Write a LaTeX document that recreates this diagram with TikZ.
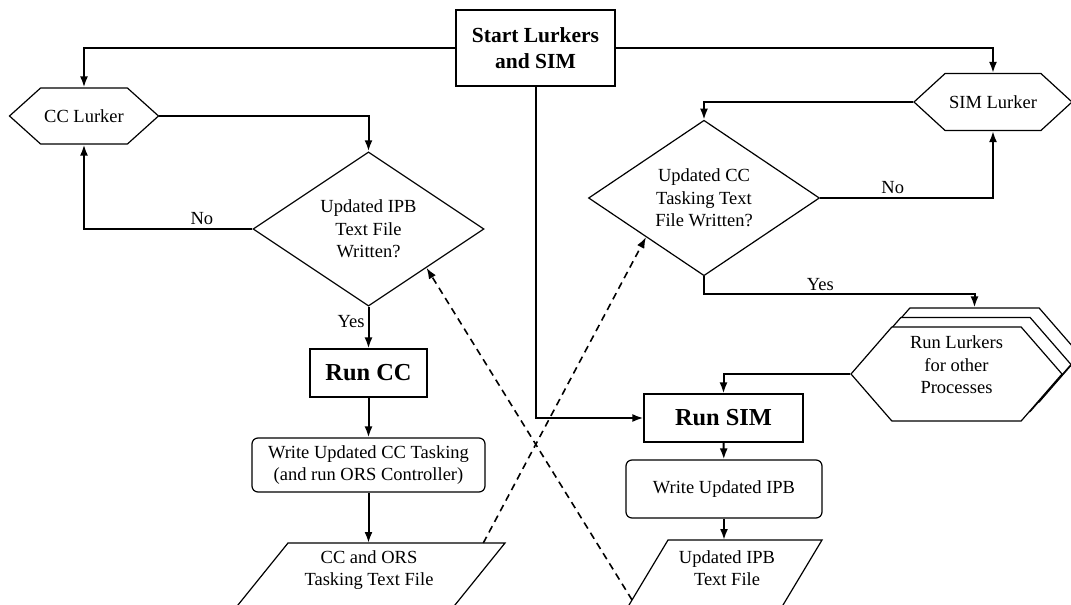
\documentclass[tikz,border=0pt]{standalone}
\usepackage{fontspec}
\setmainfont{Liberation Serif}
\usetikzlibrary{shapes.geometric,shapes.symbols,shadows,arrows.meta,calc}

\begin{document}
\begin{tikzpicture}[x=1pt,y=-1pt,
    every node/.style={font=\fontsize{18.5}{22.5}\selectfont, align=center, inner sep=0pt},
    shape line/.style={draw, line width=1.2pt},
    box/.style={shape line, minimum height=48pt, font=\fontsize{24.4}{29}\selectfont\bfseries},
    roundbox/.style={shape line, rounded corners=6pt},
    lurker/.style={shape line, fill=white, signal, signal to=west and east},
    decision/.style={shape line, diamond},
    flow/.style={line width=2pt, -{Latex[length=11pt,width=8pt]}},
    feed/.style={line width=1.6pt, dash pattern=on 7pt off 5pt, -{Latex[length=11pt,width=8pt]}},
    lab/.style={inner sep=3pt}
  ]
  \useasboundingbox (0,0) rectangle (1071,605);
  \clip (0,0) rectangle (1071,605);

  % start and the two lurkers
  \node[shape line, minimum width=159pt, minimum height=76pt,
        font=\fontsize{21.5}{26.7}\selectfont\bfseries] (start) at (535.5,48) {Start Lurkers\\and SIM};
  \node[lurker, minimum width=149pt, minimum height=56pt, signal pointer angle=84] (cclurk) at (84,116) {CC Lurker};
  \node[lurker, minimum width=158pt, minimum height=57pt, signal pointer angle=85] (simlurk) at (993,102) {SIM Lurker};

  % decisions
  \node[decision, minimum width=231pt, minimum height=129pt] (ipbcheck) at (368.5,229) {Updated IPB\\Text File\\Written?};
  \node[decision, minimum width=231pt, minimum height=147pt] (ccheck) at (704,198) {Updated CC\\Tasking Text\\File Written?};

  % CC branch
  \node[box, minimum width=117pt] (runcc) at (368.5,373) {Run CC};
  \node[roundbox, minimum width=233pt, minimum height=54pt] (writecc) at (368.5,465) {Write Updated CC Tasking\\(and run ORS Controller)};
  \coordinate (ccfile tl) at (288,543);
  \coordinate (ccfile tr) at (505,543);
  \coordinate (ccfile br) at (445.3,617);
  \coordinate (ccfile bl) at (228.3,617);
  \draw[shape line] (ccfile bl) -- (ccfile tl) -- (ccfile tr) -- (ccfile br) -- cycle;
  \node (ccfile) at (369,570) {CC and ORS\\Tasking Text File};

  % SIM branch
  \node[lurker, minimum width=211pt, minimum height=94pt, signal pointer angle=98, inner sep=2pt,
        double copy shadow={shadow xshift=9pt, shadow yshift=9.5pt, fill=white, draw=black, line width=1.2pt},
        label={[yshift=9pt]center:{Run Lurkers\\for other\\Processes}}] (others) at (956.5,374) {};
  \node[box, minimum width=159pt] (runsim) at (723.5,418) {Run SIM};
  \node[roundbox, minimum width=196pt, minimum height=58pt] (writeipb) at (724,489) {Write Updated IPB};
  \coordinate (ipbfile tl) at (668,540);
  \coordinate (ipbfile tr) at (822,540);
  \coordinate (ipbfile br) at (777.6,614);
  \coordinate (ipbfile bl) at (623.6,614);
  \draw[shape line] (ipbfile bl) -- (ipbfile tl) -- (ipbfile tr) -- (ipbfile br) -- cycle;
  \node (ipbfile) at (727,568) {Updated IPB\\Text File};

  \draw[flow] (start.west) -| (cclurk.north);
  \draw[flow] (start.east) -| (simlurk.north);
  \draw[flow] (start.south) |- (runsim.west);

  \draw[flow] (cclurk.east) -| (ipbcheck.north);
  \draw[flow] (ipbcheck.west) -| node[lab, above, pos=0.15] {No} (cclurk.south);
  \draw[flow] (ipbcheck.south) -- node[lab, left, pos=0.35] {Yes} (runcc.north);
  \draw[flow] (runcc) -- (writecc);
  \draw[flow] (writecc.south) -- (writecc.south |- ccfile tl);

  \draw[flow] (simlurk.west) -| (ccheck.north);
  \draw[flow] (ccheck.east) -| node[lab, above, pos=0.21] {No} (simlurk.south);
  \draw[flow] (ccheck.south) -- ++(0,18) -| node[lab, above, pos=0.215] {Yes} ([xshift=18pt,yshift=19pt]others.north);
  \draw[flow] (others.west) -| (runsim.north);
  \draw[flow] (runsim) -- (writeipb);
  \draw[flow] (writeipb.south) -- (writeipb.south |- ipbfile tl);

  % files read back by the lurkers
  \draw[feed] ($(ccfile tr)!0.1!(ccfile tl)$) -- ($(ccheck.west)!0.5!(ccheck.south)$);
  \draw[feed] ($(ipbfile tl)!0.81!(ipbfile bl)$) -- ($(ipbcheck.east)!0.5!(ipbcheck.south)$);
\end{tikzpicture}
\end{document}
